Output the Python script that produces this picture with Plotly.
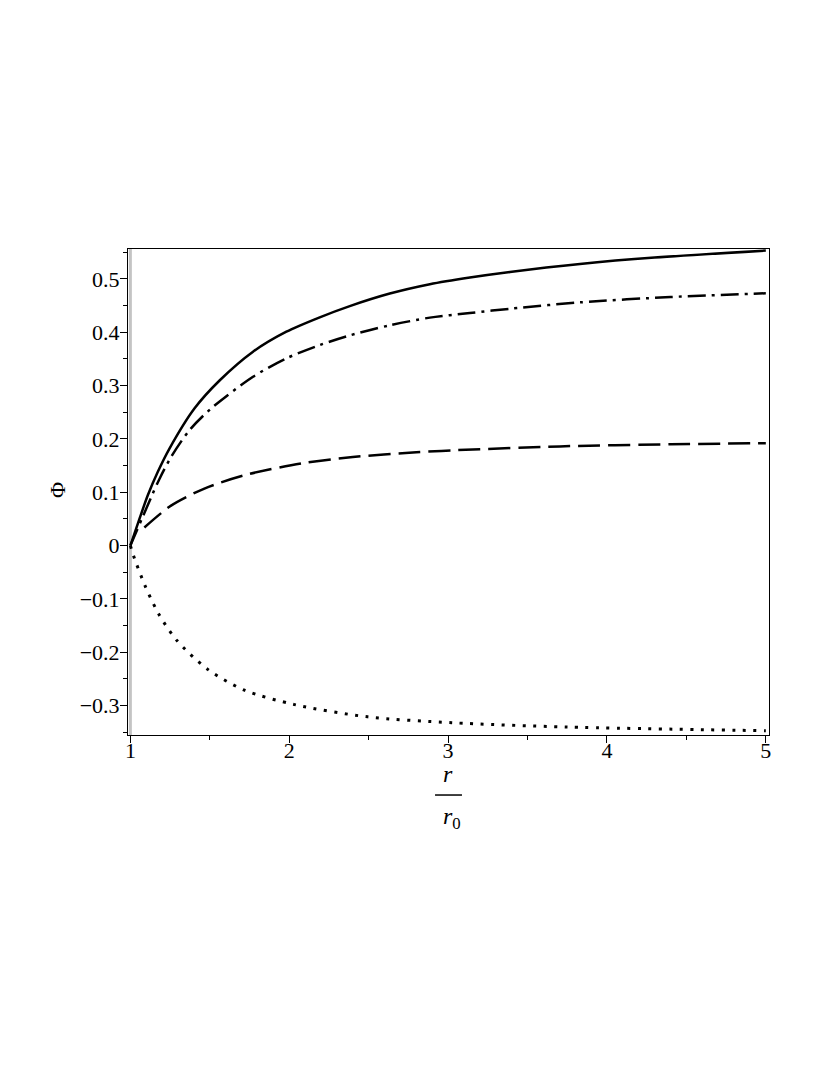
import plotly.graph_objects as go

# values
x_solid = [1.0, 1.057, 1.109, 1.172, 1.246, 1.403, 1.563, 1.772, 1.982, 2.192, 2.381, 2.633, 2.885, 3.137, 3.389, 3.83, 4.3, 5.0]
y_solid = [0.0, 0.050, 0.094, 0.138, 0.182, 0.257, 0.310, 0.3635, 0.401, 0.428, 0.449, 0.4725, 0.490, 0.5026, 0.513, 0.528, 0.540, 0.553]

x_dashdot = [1.0, 1.130, 1.183, 1.256, 1.371, 1.508, 1.772, 1.982, 2.192, 2.381, 2.633, 2.885, 3.137, 3.389, 3.83, 4.4, 5.0]
y_dashdot = [0.0, 0.090, 0.125, 0.166, 0.216, 0.257, 0.3165, 0.351, 0.376, 0.394, 0.413, 0.4274, 0.436, 0.444, 0.456, 0.466, 0.473]

x_dash = [1.088, 1.256, 1.466, 1.718, 2.074, 2.4, 2.8, 3.061, 3.703, 4.4, 5.0]
y_dash = [0.034, 0.075, 0.107, 0.132, 0.154, 0.166, 0.175, 0.179, 0.186, 0.190, 0.192]

x_dot = [1.0, 1.021, 1.092, 1.180, 1.293, 1.487, 1.718, 2.033, 2.494, 3.023, 3.745, 5.0]
y_dot = [0.0, -0.020, -0.075, -0.129, -0.178, -0.232, -0.271, -0.298, -0.321, -0.332, -0.340, -0.347]

x_ticks = [1, 2, 3, 4, 5]
y_ticks = [-0.3, -0.2, -0.1, 0, 0.1, 0.2, 0.3, 0.4, 0.5]
y_ticktext = ["\u22120.3", "\u22120.2", "\u22120.1", "0", "0.1", "0.2", "0.3", "0.4", "0.5"]

serif = "Liberation Serif"
tick_font = dict(family=serif, size=22, color="black")

fig = go.Figure()
fig.add_trace(go.Scatter(x=x_solid, y=y_solid, mode="lines", line_shape="spline",
                         line=dict(color="black", width=2.5, smoothing=0.8)))
fig.add_trace(go.Scatter(x=x_dashdot, y=y_dashdot, mode="lines", line_shape="spline",
                         line=dict(color="black", width=2.5, smoothing=0.8, dash="18px,6px,3px,6px")))
fig.add_trace(go.Scatter(x=x_dash, y=y_dash, mode="lines", line_shape="spline",
                         line=dict(color="black", width=2.5, smoothing=0.8, dash="22px,8px")))
fig.add_trace(go.Scatter(x=x_dot, y=y_dot, mode="lines", line_shape="spline",
                         line=dict(color="black", width=3, smoothing=0.8, dash="3px,7.5px")))

# light grey line along r = r0
fig.add_shape(type="line", xref="x", yref="paper", x0=1, x1=1, y0=0, y1=1,
              line=dict(color="#c4c4c4", width=3), layer="below")

# page body has an 8px margin, so the figure is a bit smaller than the window
fig.update_layout(
    width=822, height=1067,
    margin=dict(l=120, r=61, t=241, b=340),
    paper_bgcolor="white", plot_bgcolor="white",
    showlegend=False,
    font=dict(family=serif, size=22, color="black"),
)
fig.update_xaxes(range=[0.985, 5.02], tickvals=x_ticks, showgrid=False, zeroline=False,
                 showline=True, linecolor="black", linewidth=1, mirror=True,
                 ticks="outside", ticklen=7, tickcolor="black", tickfont=tick_font,
                 ticklabelstandoff=-11,
                 minor=dict(dtick=0.5, tick0=1, ticks="outside", ticklen=4, tickcolor="black"))
fig.update_yaxes(range=[-0.355, 0.556], tickvals=y_ticks, ticktext=y_ticktext,
                 showgrid=False, zeroline=False,
                 showline=True, linecolor="black", linewidth=1, mirror=True,
                 ticks="outside", ticklen=7, tickcolor="black", tickfont=tick_font,
                 ticklabelstandoff=-4,
                 minor=dict(dtick=0.05, tick0=0, ticks="outside", ticklen=4, tickcolor="black"))

# axis labels: Phi on the left, r / r0 as a fraction below
fig.add_annotation(text="\u03a6", xref="paper", yref="paper", x=-0.111, y=0.504,
                   xanchor="center", yanchor="middle",
                   showarrow=False, textangle=-90, font=dict(size=22, family=serif))
fig.add_annotation(text="<i>r</i>", xref="paper", yref="paper", x=0.499, y=-0.08,
                   xanchor="center", yanchor="middle",
                   showarrow=False, font=dict(size=24, family=serif))
fig.add_shape(type="line", xref="paper", yref="paper", x0=0.479, x1=0.521, y0=-0.1235, y1=-0.1235,
              line=dict(color="black", width=1.5))
fig.add_annotation(text="<i>r</i><sub>0</sub>", xref="paper", yref="paper", x=0.505, y=-0.171,
                   xanchor="center", yanchor="middle",
                   showarrow=False, font=dict(size=24, family=serif))

fig.write_html("out.html")
